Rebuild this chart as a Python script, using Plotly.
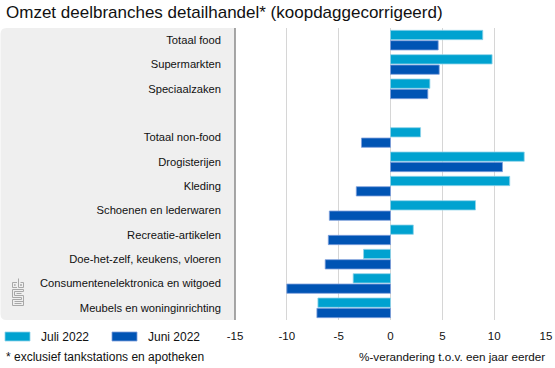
import plotly.graph_objects as go

title_text = "Omzet deelbranches detailhandel* (koopdaggecorrigeerd)"
categories = ["Totaal food", "Supermarkten", "Speciaalzaken", "",
              "Totaal non-food", "Drogisterijen", "Kleding",
              "Schoenen en lederwaren", "Recreatie-artikelen",
              "Doe-het-zelf, keukens, vloeren",
              "Consumentenelektronica en witgoed",
              "Meubels en woninginrichting"]
series_names = ["Juli 2022", "Juni 2022"]
juli_2022 = [8.9, 9.8, 3.8, None, 2.9, 12.9, 11.5, 8.2, 2.2, -2.6, -3.6, -7.0]
juni_2022 = [4.6, 4.7, 3.6, None, -2.8, 10.8, -3.3, -5.9, -6.0, -6.3, -10.0, -7.1]
x_ticks = [-15, -10, -5, 0, 5, 10, 15]
x_title = "%-verandering t.o.v. een jaar eerder"
footnote = "* exclusief tankstations en apotheken"

colors = ["#00a2d0", "#0054b4"]
edge_colors = ["#8fd3ea", "#7f9fdc"]

W, H = 555, 368
L, R, T, B = 235, 9, 28, 48
PW, PH = W - L - R, H - T - B

def px(x):
    return (x - L) / PW

def py(y):
    return 1 - (y - T) / PH

FONT = "Liberation Sans, Arial, Helvetica, sans-serif"

ypos = list(range(len(categories)))
fig = go.Figure()
for name, vals, c, ec in zip(series_names, [juli_2022, juni_2022], colors, edge_colors):
    fig.add_trace(go.Bar(
        y=ypos, x=vals, name=name, orientation="h",
        marker=dict(color=c, line=dict(color=ec, width=0.8)),
        showlegend=False,
    ))

shapes = []
# grey panel with rounded left corners
r = 6
x0, x1, y0, y1 = 0.5, L, T, 320
path = (f"M {px(x1)},{py(y0)} L {px(x0 + r)},{py(y0)} "
        f"Q {px(x0)},{py(y0)} {px(x0)},{py(y0 + r)} "
        f"L {px(x0)},{py(y1 - r)} Q {px(x0)},{py(y1)} {px(x0 + r)},{py(y1)} "
        f"L {px(x1)},{py(y1)} Z")
shapes.append(dict(type="path", xref="paper", yref="paper", path=path,
                   fillcolor="#efefef", line=dict(width=0), layer="below"))
shapes.append(dict(type="line", xref="paper", yref="paper",
                   x0=px(L), x1=px(L), y0=py(y0), y1=py(y1),
                   line=dict(color="#8a8a8a", width=1.5)))

# cbs logo (simplified)
logo_paths = [
    "M 17,282.5 L 12.5,282.5 L 12.5,287.5 L 17,287.5",
    "M 15.5,284.5 L 14.5,284.5 L 14.5,285.5 L 15.5,285.5",
    "M 18.5,278.5 L 18.5,287.5 L 23.5,287.5 L 23.5,282.5 L 20.5,282.5",
    "M 20.5,284.5 L 21.5,284.5 L 21.5,285.5 L 20.5,285.5 Z",
    "M 23.5,289.5 L 12.5,289.5 L 12.5,297.5 L 21.5,297.5 L 21.5,299.5 L 12.5,299.5 "
    "L 12.5,305.5 L 23.5,305.5 L 23.5,295.5 L 14.5,295.5 L 14.5,291.5 L 23.5,291.5 Z",
    "M 14.5,301.5 L 23.5,301.5",
    "M 14.5,303.5 L 21.5,303.5",
    "M 21.5,293.5 L 16.5,293.5",
]
for p in logo_paths:
    toks = p.split()
    out = []
    for t in toks:
        if "," in t:
            a, b = t.split(",")
            out.append(f"{px(float(a))},{py(float(b))}")
        else:
            out.append(t)
    shapes.append(dict(type="path", xref="paper", yref="paper", path=" ".join(out),
                       line=dict(color="#a8a8a8", width=1)))

# legend swatches
sw = [(5, 30), (112, 137)]
for (a, b), c, ec in zip(sw, colors, edge_colors):
    shapes.append(dict(type="rect", xref="paper", yref="paper",
                       x0=px(a), x1=px(b), y0=py(332), y1=py(341),
                       fillcolor=c, line=dict(color=ec, width=0.8)))

annotations = [
    dict(text=title_text, xref="paper", yref="paper", x=px(4), y=py(12),
         xanchor="left", yanchor="middle", showarrow=False,
         font=dict(size=17, color="#111", family=FONT)),
    dict(text=x_title, xref="paper", yref="paper", x=px(547), y=py(356),
         xanchor="right", yanchor="middle", showarrow=False,
         font=dict(size=11.7, color="#111", family=FONT)),
    dict(text=footnote, xref="paper", yref="paper", x=px(4), y=py(357),
         xanchor="left", yanchor="middle", showarrow=False,
         font=dict(size=12, color="#111", family=FONT)),
]
for (a, b), name in zip(sw, series_names):
    annotations.append(dict(text=name, xref="paper", yref="paper", x=px(b + 9), y=py(336.5),
                            xanchor="left", yanchor="middle", showarrow=False,
                            font=dict(size=12, color="#111", family=FONT)))

fig.update_layout(
    width=W, height=H,
    margin=dict(l=L, r=R, t=T, b=B, pad=0, autoexpand=False),
    paper_bgcolor="white", plot_bgcolor="white",
    barmode="group", bargap=0.15, bargroupgap=0.1,
    font=dict(family=FONT, size=11.2, color="#111"),
    shapes=shapes, annotations=annotations,
    xaxis=dict(range=[-15, 15], tickvals=x_ticks, ticktext=[str(v) for v in x_ticks],
               showgrid=True, gridcolor="#d6d6d6", gridwidth=1,
               zeroline=True, zerolinecolor="#d6d6d6", zerolinewidth=1,
               showline=False, ticks="", ticklabelstandoff=7, automargin=False,
               tickfont=dict(size=11.5, color="#111", family=FONT), fixedrange=True),
    yaxis=dict(range=[len(categories) - 0.5, -0.5], tickvals=ypos, ticktext=categories,
               showgrid=False, zeroline=False, showline=False, ticks="",
               ticklabelstandoff=13, automargin=False,
               tickfont=dict(size=11.2, color="#111", family=FONT), fixedrange=True),
)

fig.write_html("out.html", config={"displayModeBar": False},
               post_script="document.body.style.margin='0';document.body.style.padding='0';")
